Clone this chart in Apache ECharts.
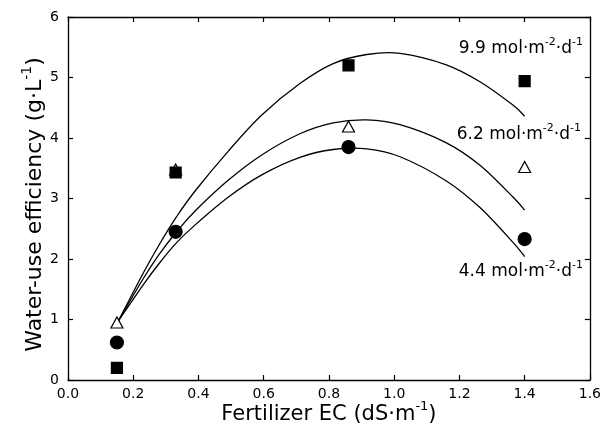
<!DOCTYPE html>
<html>
<head>
<meta charset="utf-8">
<script src="https://cdn.jsdelivr.net/npm/echarts@6/dist/echarts.min.js"></script>
<style>html,body{margin:0;padding:0;background:#fff}#c{width:604px;height:441px}</style>
</head>
<body>
<div id="c"></div>
<script>
// Measured points (Fertilizer EC, dS/m)
var ecValues = [0.15, 0.33, 0.86, 1.40];
var wue99 = [0.20, 3.43, 5.20, 4.94];   // 9.9 mol m-2 d-1 (filled squares)
var wue62 = [0.95, 3.48, 4.19, 3.52];   // 6.2 mol m-2 d-1 (open triangles)
var wue44 = [0.62, 2.45, 3.85, 2.33];   // 4.4 mol m-2 d-1 (filled circles)

// Fitted curves
var curveX   = [0.155, 0.23, 0.28, 0.333, 0.389, 0.491, 0.594, 0.711, 0.813, 0.916, 1.018, 1.16, 1.263, 1.365, 1.40];
var curve99  = [0.98, 1.76, 2.24, 2.70, 3.12, 3.78, 4.38, 4.90, 5.23, 5.38, 5.40, 5.21, 4.93, 4.54, 4.36];
var curve62  = [0.98, 1.67, 2.08, 2.45, 2.79, 3.30, 3.72, 4.07, 4.25, 4.30, 4.22, 3.92, 3.55, 3.02, 2.81];
var curve44  = [0.98, 1.57, 1.93, 2.27, 2.56, 3.02, 3.39, 3.68, 3.81, 3.82, 3.69, 3.29, 2.85, 2.27, 2.04];

var xTicks = [0, 0.2, 0.4, 0.6, 0.8, 1.0, 1.2, 1.4, 1.6];
var yTicks = [0, 1, 2, 3, 4, 5, 6];
var seriesLabels = ['9.9', '6.2', '4.4'];

function pairs(xs, ys) { return xs.map(function (x, i) { return [x, ys[i]]; }); }

var FONT = 'DejaVu Sans';
var chart = echarts.init(document.getElementById('c'), null, {renderer: 'canvas'});

var axisLineStyle = {color: '#000', width: 1.3};
function xAxisCfg(pos, showLabel) {
  return {
    type: 'value', position: pos, min: xTicks[0], max: xTicks[xTicks.length - 1], interval: 0.2,
    nameMoveOverlap: false,
    axisLine: {show: true, onZero: false, lineStyle: axisLineStyle},
    axisTick: {show: true, inside: true, length: 5, lineStyle: {color: '#000', width: 1.2}},
    axisLabel: {show: showLabel, formatter: function (v) { return v.toFixed(1); }, color: '#000', fontSize: 14, fontFamily: FONT, margin: 7},
    splitLine: {show: false}
  };
}
function yAxisCfg(pos, showLabel) {
  return {
    type: 'value', position: pos, min: yTicks[0], max: yTicks[yTicks.length - 1], interval: 1,
    nameMoveOverlap: false,
    axisLine: {show: true, onZero: false, lineStyle: axisLineStyle},
    axisTick: {show: true, inside: true, length: 5, lineStyle: {color: '#000', width: 1.2}},
    axisLabel: {show: showLabel, color: '#000', fontSize: 14, fontFamily: FONT, margin: 9},
    splitLine: {show: false}
  };
}

var xb = xAxisCfg('bottom', true);
xb.name = '{m|Fertilizer EC (dS·m}{s|-1}{m|)}';
xb.nameLocation = 'middle';
xb.nameGap = 20;
xb.nameTextStyle = {rich: {
  m: {fontSize: 21, lineHeight: 30, fontFamily: FONT, color: '#000'},
  s: {fontSize: 13, lineHeight: 14, fontFamily: FONT, color: '#000', verticalAlign: 'top'}}};
var xt = xAxisCfg('top', false);

var yl = yAxisCfg('left', true);
yl.name = '{m|Water-use efficiency (g·L}{s|-1}{m|)}';
yl.nameLocation = 'middle';
yl.nameGap = 18;
yl.nameRotate = 90;
yl.nameTextStyle = {padding: [0, 12, 0, 0], rich: {
  m: {fontSize: 22, lineHeight: 30, fontFamily: FONT, color: '#000'},
  s: {fontSize: 14, lineHeight: 15, fontFamily: FONT, color: '#000', verticalAlign: 'top'}}};
var yr = yAxisCfg('right', false);

// Smooth curve through the read points, placed with the chart's own scales (api.coord)
function curveSeries(ys) {
  return {
    type: 'custom', coordinateSystem: 'cartesian2d', xAxisIndex: 0, yAxisIndex: 0,
    data: [[curveX[0], ys[0]]], z: 2, silent: true,
    renderItem: function (params, api) {
      var p = curveX.map(function (x, i) { return api.coord([x, ys[i]]); });
      var n = p.length;
      var d = 'M' + p[0][0] + ' ' + p[0][1];
      for (var i = 0; i < n - 1; i++) {
        var p0 = p[Math.max(i - 1, 0)], p1 = p[i], p2 = p[i + 1], p3 = p[Math.min(i + 2, n - 1)];
        var c1x = p1[0] + (p2[0] - p0[0]) / 6, c1y = p1[1] + (p2[1] - p0[1]) / 6;
        var c2x = p2[0] - (p3[0] - p1[0]) / 6, c2y = p2[1] - (p3[1] - p1[1]) / 6;
        d += ' C' + c1x + ' ' + c1y + ' ' + c2x + ' ' + c2y + ' ' + p2[0] + ' ' + p2[1];
      }
      return {type: 'path', shape: {pathData: d}, style: {fill: null, stroke: '#000', lineWidth: 1.3}};
    }
  };
}
function pointSeries(ys, symbol, size, fill, z) {
  return {type: 'scatter', xAxisIndex: 0, yAxisIndex: 0, data: pairs(ecValues, ys), symbol: symbol, symbolSize: size,
    itemStyle: {color: fill, borderColor: '#000', borderWidth: 1.2, opacity: 1}, z: z, silent: true};
}

var rich = {
  m: {fontSize: 17, lineHeight: 25, fontFamily: FONT, color: '#000'},
  s: {fontSize: 11, lineHeight: 12, fontFamily: FONT, color: '#000', verticalAlign: 'top'}
};
function lbl(txt, x, y) {
  return {type: 'text', x: x, y: y, z: 10,
    style: {text: '{m|' + txt + ' mol·m}{s|-2}{m|·d}{s|-1}', rich: rich, align: 'right', verticalAlign: 'middle', fill: '#000'}};
}

chart.setOption({
  animation: false,
  backgroundColor: '#fff',
  grid: {left: 68, right: 14, top: 17, bottom: 61, containLabel: false},
  xAxis: [xb, xt],
  yAxis: [yl, yr],
  series: [
    curveSeries(curve99), curveSeries(curve62), curveSeries(curve44),
    pointSeries(wue62, 'triangle', [12, 11], '#fff', 5),
    pointSeries(wue44, 'circle', 13, '#000', 6),
    pointSeries(wue99, 'rect', 11, '#000', 7)
  ],
  graphic: [
    lbl(seriesLabels[0], 583, 49),
    lbl(seriesLabels[1], 581, 135),
    lbl(seriesLabels[2], 583, 272)
  ]
});
</script>
</body>
</html>
